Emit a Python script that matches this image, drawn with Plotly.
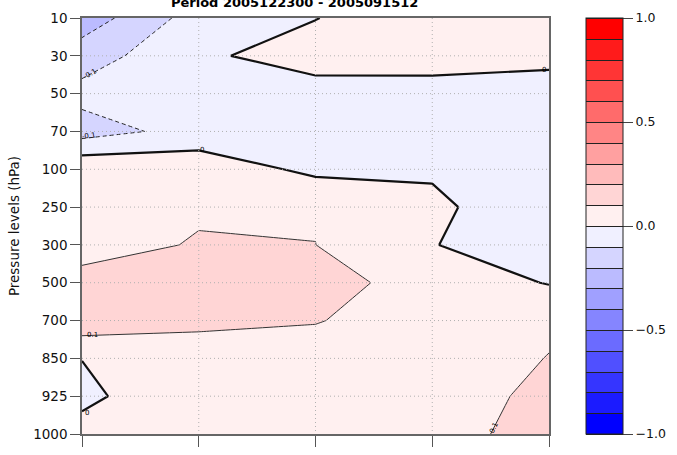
import plotly.graph_objects as go

# Pressure levels (categorical, evenly spaced on the axis)
levels_hpa = ["10", "30", "50", "70", "100", "250", "300", "500", "700", "850", "925", "1000"]
# Time steps along the horizontal axis
time_steps = [0, 1, 2, 3, 4]

# Field values, one list per pressure level (columns follow time_steps)
p10 = [-0.257, -0.053, -0.003, 0.080, 0.080]
p30 = [-0.147, -0.019, 0.050, 0.060, 0.040]
p50 = [-0.069, -0.040, -0.046, -0.055, -0.068]
p70 = [-0.143, -0.063, -0.040, -0.040, -0.050]
p100 = [0.084, 0.063, -0.024, -0.014, -0.050]
p250 = [0.085, 0.087, 0.095, 0.023, -0.080]
p300 = [0.060, 0.108, 0.1005, 0.005, -0.080]
p500 = [0.134, 0.140, 0.136, 0.060, -0.005]
p700 = [0.166, 0.120, 0.103, 0.070, 0.088]
p850 = [0.0015, 0.053, 0.073, 0.060, 0.102]
p925 = [-0.020, 0.070, 0.060, 0.070, 0.115]
p1000 = [0.030, 0.050, 0.050, 0.070, 0.130]
field = [p10, p30, p50, p70, p100, p250, p300, p500, p700, p850, p925, p1000]

# Contour levels
level_min, level_max, level_step = -1.0, 1.0, 0.1
colorbar_ticks = [-1.0, -0.5, 0.0, 0.5, 1.0]

# Contour label annotations: value, time position, level position, angle
label_values = [-0.1, -0.1, 0, 0, 0.1, 0, 0.1]
label_x = [0.07, 0.06, 1.03, 3.96, 0.09, 0.04, 3.53]
label_y = [1.47, 3.13, 3.5, 1.37, 8.39, 10.44, 10.85]
label_angle = [-30, -8, 0, 0, 0, 0, -65]

title_text = "Period 2005122300 - 2005091512"
ytitle_text = "Pressure levels (hPa)"

y_idx = list(range(len(levels_hpa)))

# Blue-white-red ramp, 20 discrete bins
ramp = [0, 27, 53, 80, 107, 133, 160, 187, 213, 240]
bin_colors = [f"rgb({v},{v},255)" for v in ramp] + [f"rgb(255,{v},{v})" for v in reversed(ramp)]
nb = len(bin_colors)
colorscale = []
for k, c in enumerate(bin_colors):
    colorscale.append([k / nb, c])
    colorscale.append([(k + 1) / nb, c])

FONT = "DejaVu Sans, Verdana, sans-serif"
FS = 13.5

fig = go.Figure()

# filled bands
fig.add_trace(go.Contour(
    x=time_steps, y=y_idx, z=field, zmin=level_min, zmax=level_max,
    colorscale=colorscale,
    contours=dict(start=level_min, end=level_max, size=level_step,
                  coloring="fill", showlines=False),
    line=dict(width=0, smoothing=0), showscale=False, hoverinfo="skip",
))

# colour key with band separators
fig.add_trace(go.Contour(
    x=time_steps, y=y_idx, z=field, zmin=level_min, zmax=level_max,
    colorscale=colorscale, opacity=0,
    contours=dict(start=level_min, end=level_max, size=level_step,
                  coloring="fill", showlines=True),
    line=dict(width=1, color="#222222", smoothing=0), hoverinfo="skip",
    colorbar=dict(
        thickness=37, thicknessmode="pixels", len=1, lenmode="fraction",
        x=(589 - 82) / 470, xanchor="left", xpad=0, y=0.5, yanchor="middle", ypad=0,
        outlinewidth=1, outlinecolor="#222222",
        tickvals=colorbar_ticks, tickformat=".1f",
        ticks="outside", ticklen=10, tickwidth=1, tickcolor="#444444",
        tickfont=dict(family=FONT, size=12.5, color="#111111"),
    ),
))

# negative contours (dashed)
fig.add_trace(go.Contour(
    x=time_steps, y=y_idx, z=field,
    contours=dict(start=level_min, end=-level_step, size=level_step, coloring="none"),
    line=dict(width=1, color="#222222", dash="4px,3px", smoothing=0),
    showscale=False, hoverinfo="skip",
))
# positive contours (thin)
fig.add_trace(go.Contour(
    x=time_steps, y=y_idx, z=field,
    contours=dict(start=level_step, end=level_max, size=level_step, coloring="none"),
    line=dict(width=1, color="#333333", smoothing=0), showscale=False, hoverinfo="skip",
))
# zero contour (thick)
fig.add_trace(go.Contour(
    x=time_steps, y=y_idx, z=field,
    contours=dict(start=0, end=0, size=level_step, coloring="none"),
    line=dict(width=2.2, color="#111111", smoothing=0), showscale=False, hoverinfo="skip",
))

# dotted grid drawn above the filled bands
grid_line = dict(color="#b0b0b0", width=1, dash="1px,3px")
for j in y_idx[1:-1]:
    fig.add_shape(type="line", xref="x", yref="y", x0=time_steps[0], x1=time_steps[-1],
                  y0=j, y1=j, line=grid_line, layer="above")
for t in time_steps[1:-1]:
    fig.add_shape(type="line", xref="x", yref="y", x0=t, x1=t, y0=y_idx[0], y1=y_idx[-1],
                  line=grid_line, layer="above")

for v, lx, ly, ang in zip(label_values, label_x, label_y, label_angle):
    fig.add_annotation(x=lx, y=ly, xref="x", yref="y", text=f"{v:g}", showarrow=False,
                       textangle=ang, font=dict(family=FONT, size=7, color="#000000"))

fig.update_layout(
    width=677, height=455,
    margin=dict(l=82, r=125, t=10, b=11),
    paper_bgcolor="white", plot_bgcolor="white",
    font=dict(family=FONT, size=FS, color="#111111"),
    title=dict(text=f"<b>{title_text}</b>", x=(296 - 82) / 470, xref="paper", xanchor="center",
               yref="paper", y=1, yanchor="bottom", pad=dict(b=11),
               font=dict(family=FONT, size=13, color="#000000")),
    showlegend=False,
)
fig.update_xaxes(range=[time_steps[0], time_steps[-1]], tickvals=time_steps, showticklabels=False,
                 ticks="outside", ticklen=11, tickcolor="#555555", showgrid=False, zeroline=False,
                 showline=True, linecolor="#666666", linewidth=1.5, mirror=True)
fig.update_yaxes(range=[y_idx[-1], y_idx[0]], tickvals=y_idx, ticktext=levels_hpa,
                 ticks="outside", ticklen=10, tickcolor="#555555", showgrid=False, zeroline=False,
                 showline=True, linecolor="#666666", linewidth=1.5, mirror=True,
                 title=dict(text=ytitle_text, standoff=10, font=dict(family=FONT, size=FS)),
                 tickfont=dict(family=FONT, size=FS))

fig.write_html("out.html")
